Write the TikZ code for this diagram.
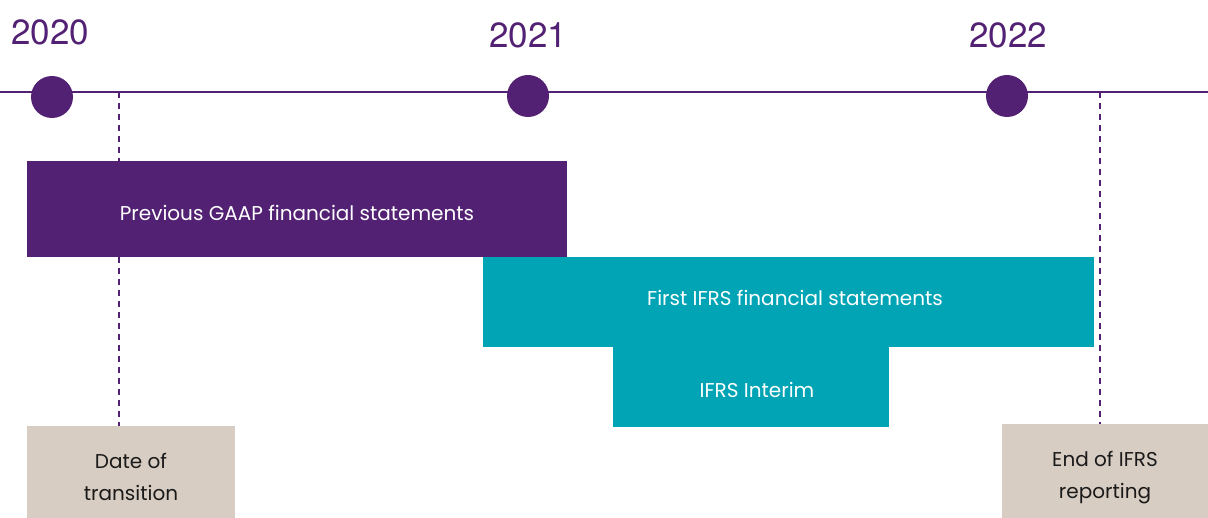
\documentclass[tikz,border=0pt]{standalone}
\usepackage{fontspec}
\setmainfont{Poppins}
\newfontfamily\yearfont{TeX Gyre Heros}
\definecolor{kpurple}{HTML}{522173}
\definecolor{kteal}{HTML}{00A4B5}
\definecolor{kbeige}{HTML}{D7CDC2}
\definecolor{ktext}{HTML}{1A1A1A}
\tikzset{
  year/.style={text=kpurple, font=\yearfont\fontsize{35}{38}\selectfont, inner sep=0pt, anchor=base},
  dot/.style={circle, fill=kpurple, minimum size=42pt, inner sep=0pt},
  bar/.style={anchor=north west, inner sep=0pt},
  bartext/.style={text=white, font=\fontsize{20}{24}\selectfont, inner sep=0pt, anchor=base},
  note/.style={anchor=north west, inner sep=0pt, fill=kbeige},
  notetext/.style={text=ktext, font=\fontsize{20}{32}\selectfont, align=center, inner sep=0pt},
  tline/.style={kpurple, line width=1.8pt},
  dline/.style={kpurple, line width=2pt, dash pattern=on 6pt off 5pt}
}
\begin{document}
\begin{tikzpicture}[x=1pt,y=-1pt]
\useasboundingbox (0,0) rectangle (1208,518);
% timeline
\coordinate (L) at (0,92);
\coordinate (R) at (1208,92);
\draw[tline] (L) -- (R);
% dashed markers
\coordinate (d1) at (119,92);
\coordinate (d2) at (1100,92);
% notes
\node[note, minimum width=208pt, minimum height=92pt] (date) at (27,426) {};
\node[note, minimum width=206pt, minimum height=94pt] (endr) at (1002,424) {};
\node[notetext] (datet) at (131,477) {Date of\\transition};
\node[notetext] (endt) at (1105,478) {End of IFRS\\reporting};
\draw[dline] (d1) -- (date.north -| d1);
\draw[dline] (d2) -- (endr.north -| d2);
% bars
\node[bar, fill=kpurple, minimum width=540pt, minimum height=96pt] (gaap) at (27,161) {};
\node[bar, fill=kteal, minimum width=611pt, minimum height=90pt] (ifrs) at (483,257) {};
\node[bar, fill=kteal, minimum width=276pt, minimum height=80pt] (interim) at (613,346.5) {};
\node[bartext] (gaapt) at (297,221) {Previous GAAP financial statements};
\node[bartext] (ifrst) at (795,306) {First IFRS financial statements};
\node[bartext] (interimt) at (757,398) {IFRS Interim};
% dots
\node[dot] (c1) at (52,97) {};
\node[dot] (c2) at (528,96) {};
\node[dot] (c3) at (1007,96) {};
% years
\node[year] (y1) at (50,45) {2020};
\node[year] (y2) at (528,48) {2021};
\node[year] (y3) at (1008,48) {2022};
\end{tikzpicture}
\end{document}
